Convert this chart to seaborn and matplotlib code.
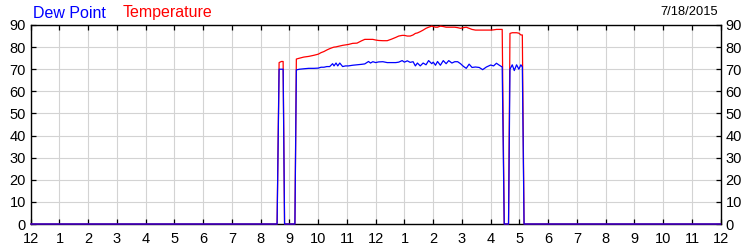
import matplotlib
matplotlib.use("Agg")
import matplotlib.pyplot as plt
import seaborn as sns
import pandas as pd

# time of day in hours (0 = midnight)
hours = [0.0, 8.57, 8.64, 8.72, 8.78, 8.83, 9.19, 9.24, 9.35, 9.5, 9.67, 9.85,
         10.0, 10.1, 10.2, 10.3, 10.4, 10.5, 10.55, 10.62, 10.68, 10.75, 10.85,
         10.95, 11.05, 11.2, 11.35, 11.5, 11.62, 11.75, 11.82, 11.9, 12.0, 12.1,
         12.25, 12.4, 12.55, 12.7, 12.8, 12.92, 13.0, 13.1, 13.2, 13.3, 13.38,
         13.45, 13.55, 13.65, 13.75, 13.84, 13.95, 14.0, 14.08, 14.15, 14.25,
         14.35, 14.45, 14.54, 14.65, 14.75, 14.85, 14.95, 15.05, 15.15, 15.25,
         15.35, 15.47, 15.6, 15.72, 15.85, 16.0, 16.1, 16.2, 16.3, 16.4, 16.47,
         16.62, 16.67, 16.75, 16.82, 16.9, 16.98, 17.05, 17.1, 17.16, 24.0]
temperature = [0, 0, 73, 73.5, 73.5, 0, 0, 74.6, 75, 75.5, 75.8, 76.3,
               76.8, 77.5, 78.0, 78.7, 79.3, 79.8, 80, 80.1, 80.3, 80.5, 80.8,
               81, 81.2, 81.7, 81.8, 82.8, 83.5, 83.5, 83.5, 83.5, 83.2, 83.0,
               82.9, 82.9, 83.6, 84.4, 85, 85.3, 85.3, 85, 85, 85.5, 86.2,
               86.4, 87, 87.7, 88.5, 89, 89.5, 89.3, 89, 89, 89.5,
               89.3, 89, 89, 89, 89, 88.8, 88.5, 88.8, 89, 88.5,
               88, 87.7, 87.7, 87.7, 87.7, 87.7, 87.8, 88, 88, 88, 0,
               0, 86.2, 86.5, 86.5, 86.5, 86.3, 85.5, 85.5, 0, 0]
dew_point = [0, 0, 70, 70, 70, 0, 0, 69.7, 70, 70.2, 70.4, 70.4,
             70.5, 70.9, 70.9, 71.2, 71.2, 72.5, 71.5, 72.8, 71.5, 72.8, 71.2,
             71.5, 71.5, 71.8, 72, 72.2, 72.4, 73.5, 72.8, 73.4, 73.0, 73.3,
             73.4, 73.0, 73.0, 73.0, 73.2, 73.9, 73.2, 73.8, 73.1, 73.4, 71.5,
             72.8, 71.5, 72.8, 72.0, 73.9, 72.5, 73.2, 71.8, 73.5, 71.8,
             73.9, 72.5, 73.9, 72.8, 73.4, 73.4, 72.5, 71.3, 70.4, 72.3,
             70.8, 71.0, 70.8, 69.8, 71.0, 71.9, 71.5, 72.7, 71.8, 71.0, 0,
             0, 70, 72, 69.4, 72, 70, 72, 71, 0, 0]

x_tick_labels = ["12", "1", "2", "3", "4", "5", "6", "7", "8", "9", "10", "11",
                 "12", "1", "2", "3", "4", "5", "6", "7", "8", "9", "10", "11", "12"]
y_ticks = [0, 10, 20, 30, 40, 50, 60, 70, 80, 90]
date_label = "7/18/2015"

sns.set_style("white")
plt.rcParams["font.family"] = ["Liberation Sans", "DejaVu Sans"]

df = pd.DataFrame({"hour": hours, "Temperature": temperature, "Dew Point": dew_point})

fig = plt.figure(figsize=(7.5, 2.5), dpi=100)
ax = fig.add_axes([30.7 / 750, 26 / 250, 690 / 750, 199 / 250])

sns.lineplot(data=df, x="hour", y="Temperature", color="#ff0000", lw=0.9,
             estimator=None, sort=False, ax=ax, zorder=3, clip_on=False)
sns.lineplot(data=df, x="hour", y="Dew Point", color="#0000ff", lw=0.9,
             estimator=None, sort=False, ax=ax, zorder=4, clip_on=False)

ax.set_xlim(0, 24)
ax.set_ylim(0, 90)
ax.set_xticks(range(25))
ax.set_xticklabels(x_tick_labels)
ax.set_yticks(y_ticks)
ax.set_xlabel("")
ax.set_ylabel("")
ax.grid(True, color="#d3d3d3", lw=0.8)
ax.set_axisbelow(True)
for s in ax.spines.values():
    s.set_visible(True)
    s.set_color("black")
    s.set_linewidth(1.0)

ax.tick_params(axis="x", direction="in", length=3.6, width=0.9, top=True,
               bottom=True, labelsize=10.5, pad=6.0, colors="black")
ax.tick_params(axis="y", direction="in", length=3.6, width=0.9, left=True,
               right=True, labelleft=True, labelright=True, labelsize=10.5,
               pad=3.5, colors="black")

fig.text(33 / 750, 1 - 13 / 250, "Dew Point", color="#0000ff", ha="left",
         va="center", fontsize=11.5)
fig.text(123 / 750, 1 - 13 / 250, "Temperature", color="#ff0000", ha="left",
         va="center", fontsize=11.5)
fig.text(718 / 750, 1 - 12 / 250, date_label, color="black", ha="right",
         va="center", fontsize=9.3)

fig.savefig("out.png", dpi=100)
